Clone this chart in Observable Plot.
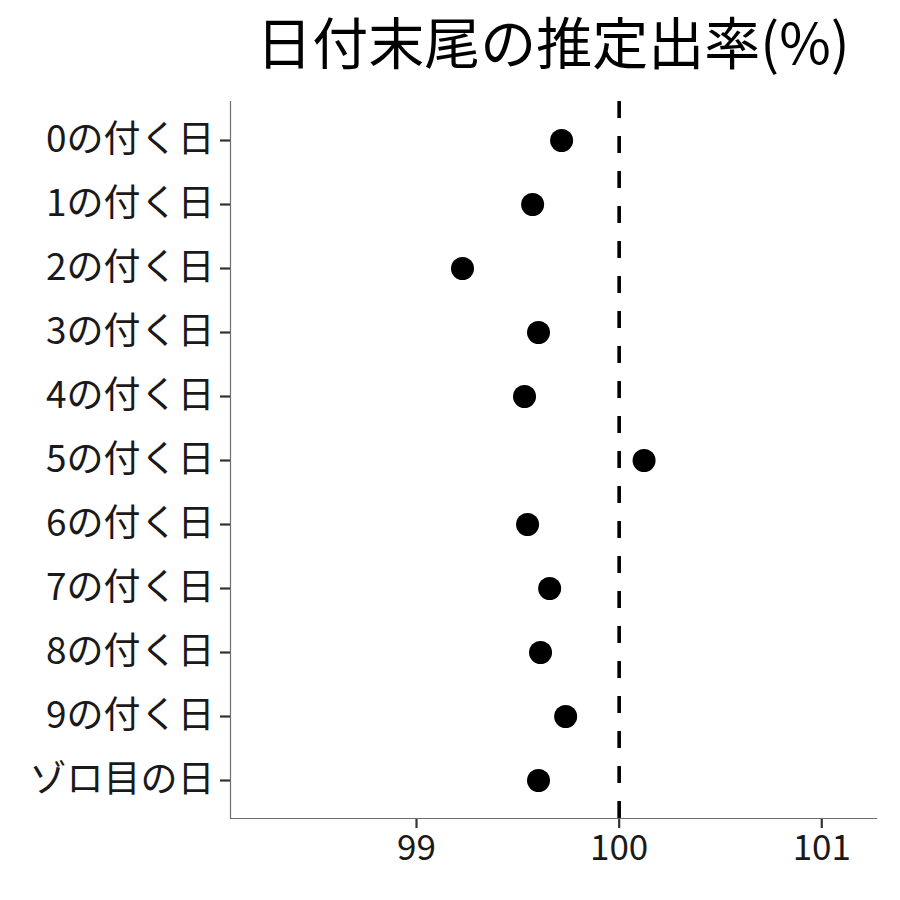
<!DOCTYPE html>
<html><head><meta charset="utf-8">
<script src="https://cdn.jsdelivr.net/npm/d3@7"></script>
<script src="https://cdn.jsdelivr.net/npm/@observablehq/plot@0.6"></script>
<style>
body{margin:0;background:#fff;font-family:"Noto Sans CJK JP","Noto Sans",sans-serif;}
#title{height:90px;width:900px;position:relative;}
#title span{position:absolute;left:553px;top:39px;transform:translate(-50%,-50%);font-size:56px;color:#000;white-space:nowrap;}
</style></head>
<body>
<div id="title"><span>日付末尾の推定出率(%)</span></div>
<div id="chart"></div>
<script>
const categories = ["0の付く日","1の付く日","2の付く日","3の付く日","4の付く日","5の付く日","6の付く日","7の付く日","8の付く日","9の付く日","ゾロ目の日"];
const values = [99.716, 99.573, 99.227, 99.602, 99.533, 100.123, 99.548, 99.657, 99.612, 99.736, 99.602];
const xTicks = [99, 100, 101];
const refValue = 100;
const data = categories.map((c, i) => ({cat: c, val: values[i]}));

const chart = Plot.plot({
  width: 900, height: 810,
  marginTop: 11, marginBottom: 82, marginLeft: 230, marginRight: 24,
  style: {fontFamily: '"Noto Sans CJK JP","Noto Sans",sans-serif', fontSize: "35px", color: "#000", background: "#fff"},
  x: {domain: [98.082, 101.27], ticks: xTicks, label: null},
  y: {type: "point", domain: categories, padding: 0.6, label: null},
  marks: [
    Plot.ruleX([refValue], {stroke: "#000", strokeWidth: 3.6, strokeDasharray: "17,18"}),
    Plot.dot(data, {x: "val", y: "cat", r: 11.5, fill: "#000", stroke: null}),
    Plot.axisX({ticks: xTicks, tickFormat: d => String(d), tickSize: 10, tickPadding: 7, stroke: "#333", strokeWidth: 2.2, fill: "#1a1a1a", fontSize: 35, label: null}),
    Plot.axisY({tickSize: 10, tickPadding: 6, stroke: "#333", strokeWidth: 2.2, fill: "#1a1a1a", fontSize: 37, label: null}),
    Plot.ruleX([98.082], {stroke: "#6e6e6e", strokeWidth: 1.2}),
    Plot.frame({anchor: "bottom", stroke: "#6e6e6e", strokeWidth: 1.2})
  ]
});
document.getElementById("chart").appendChild(chart);
</script>
</body></html>
